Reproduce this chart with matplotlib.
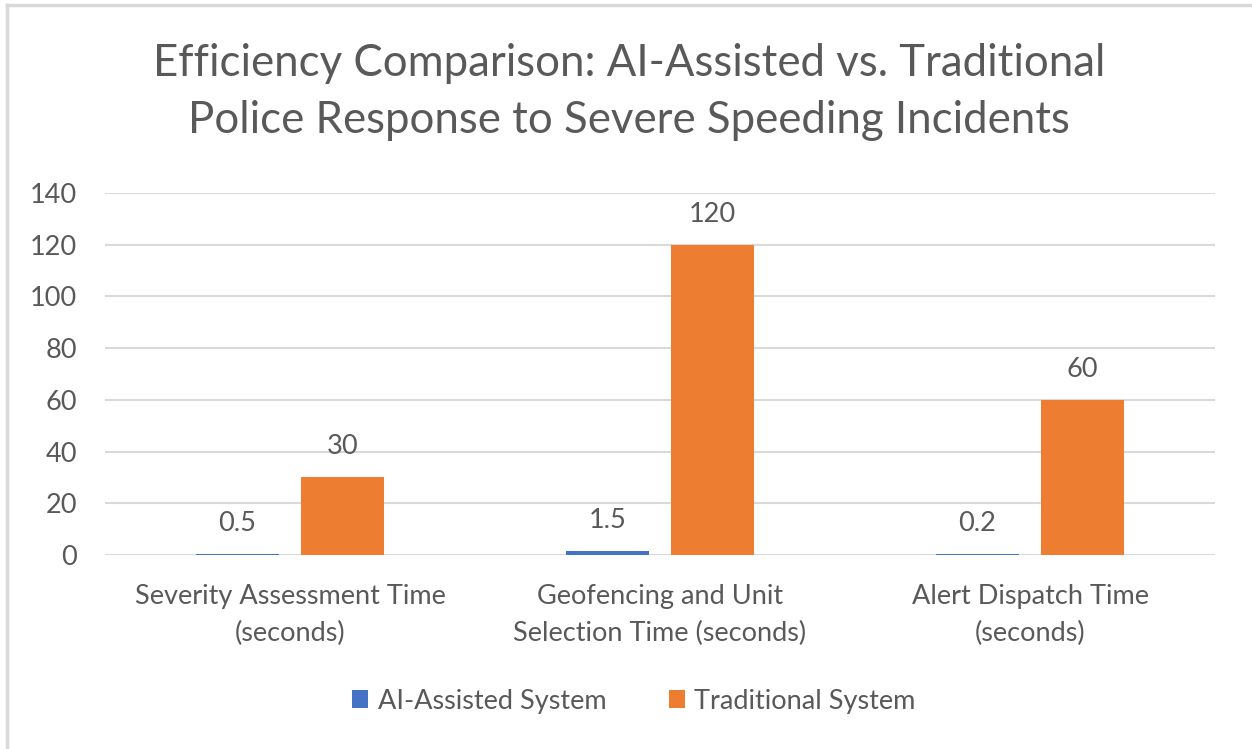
import matplotlib
matplotlib.use("Agg")
import matplotlib.pyplot as plt
import numpy as np

categories = ["Severity Assessment Time\n(seconds)",
              "Geofencing and Unit\nSelection Time (seconds)",
              "Alert Dispatch Time\n(seconds)"]
series_names = ["AI-Assisted System", "Traditional System"]
ai_values = [0.5, 1.5, 0.2]
trad_values = [30, 120, 60]
yticks = [0, 20, 40, 60, 80, 100, 120, 140]
title = "Efficiency Comparison: AI-Assisted vs. Traditional\nPolice Response to Severe Speeding Incidents"

FONT = ["Lato", "DejaVu Sans"]
TXT = "#595959"
BLUE = "#4472C4"
ORANGE = "#ED7D31"
GRID = "#D9D9D9"

plt.rcParams['font.family'] = FONT

W, H = 1252, 749
fig = plt.figure(figsize=(W / 100, H / 100), dpi=100)

left, right, top, bottom = 105, 1215, 193, 555
ax = fig.add_axes([left / W, 1 - bottom / H, (right - left) / W, (bottom - top) / H])

x = np.arange(len(categories))
bw = 0.224
off = 0.142
b1 = ax.bar(x - off, ai_values, bw, color=BLUE, label=series_names[0], zorder=3)
b2 = ax.bar(x + off, trad_values, bw, color=ORANGE, label=series_names[1], zorder=3)

FS = 19.5
for bars, vals in ((b1, ai_values), (b2, trad_values)):
    for rect, v in zip(bars, vals):
        ax.annotate(f"{v:g}", (rect.get_x() + rect.get_width() / 2, rect.get_height()),
                    xytext=(0, 22), textcoords="offset points", ha="center", va="center",
                    fontsize=FS, color=TXT)

ax.set_xlim(-0.5, len(categories) - 0.5)
ax.set_ylim(0, 140)
ax.set_yticks(yticks)
ax.set_yticklabels([str(t) for t in yticks], fontsize=FS, color=TXT)
ax.set_xticks(x)
ax.set_xticklabels(categories, fontsize=FS, color=TXT, linespacing=1.6)
ax.tick_params(axis="both", length=0)
ax.tick_params(axis="y", pad=20)
ax.tick_params(axis="x", pad=21)
ax.grid(axis="y", color=GRID, linewidth=1.5, zorder=0)
for s in ax.spines.values():
    s.set_visible(False)

fig.text(629 / W, 1 - 92 / H, title, ha="center", va="center", fontsize=31.5,
         color=TXT, linespacing=1.5)

leg = fig.legend(handles=[b1, b2], labels=series_names, loc="center",
                 bbox_to_anchor=(634 / W, 1 - 701 / H), ncol=2, frameon=False,
                 fontsize=FS, handlelength=0.6, handleheight=0.6, handletextpad=0.35,
                 columnspacing=2.3)
for t in leg.get_texts():
    t.set_color(TXT)

# outer chart frame (left and top edges visible)
fig.add_artist(plt.Line2D([7 / W, 7 / W], [0, 1 - 5 / H], transform=fig.transFigure,
                          color="#D9D9D9", linewidth=2.5))
fig.add_artist(plt.Line2D([7 / W, 1], [1 - 5 / H, 1 - 5 / H], transform=fig.transFigure,
                          color="#D9D9D9", linewidth=2.5))

fig.savefig("out.png", dpi=100, facecolor="white")
